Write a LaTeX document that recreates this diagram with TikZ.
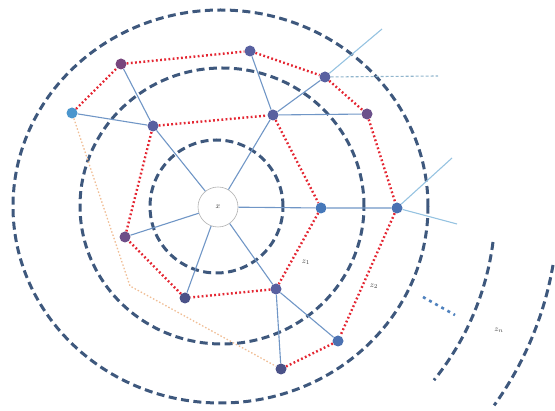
\documentclass[tikz,border=0pt]{standalone}
\usetikzlibrary{calc}
\definecolor{ringc}{RGB}{62,88,125}
\definecolor{edgec}{RGB}{112,150,198}
\definecolor{extc}{RGB}{150,195,225}
\definecolor{redc}{RGB}{228,38,50}
\definecolor{orc}{RGB}{240,190,150}
\definecolor{nodec}{RGB}{88,96,160}
\definecolor{nodeb}{RGB}{70,120,185}
\definecolor{nodel}{RGB}{75,150,205}
\definecolor{nodem}{RGB}{120,70,125}
\definecolor{dotc}{RGB}{80,130,190}
\tikzset{
  ring/.style={draw=ringc,line width=3pt,dash pattern=on 8pt off 4.5pt},
  link/.style={draw=edgec,line width=1.1pt},
  ext/.style={draw=extc,line width=1.1pt},
  extdash/.style={draw=extc!80!gray,line width=1.1pt,dash pattern=on 3pt off 2pt},
  redpath/.style={draw=redc,line width=2.4pt,dash pattern=on 1.8pt off 2.4pt},
  orpath/.style={draw=orc,line width=1.3pt,dash pattern=on 1.5pt off 2pt},
  dot/.style={circle,fill=nodec,inner sep=0pt,minimum size=11pt},
  lab/.style={font=\fontsize{8.5}{9}\selectfont,inner sep=0pt,text=black!75}
}
\begin{document}
\begin{tikzpicture}[x=1pt,y=-1pt]
\useasboundingbox (0,0) rectangle (555,411);
% rings
\draw[ring] (220.5,206.5) ellipse [x radius=207.5pt, y radius=196.5pt];
\draw[ring] (222,206) ellipse [x radius=142pt, y radius=138pt];
\draw[ring] (216.5,206.5) ellipse [x radius=66.5pt, y radius=66.5pt];
\coordinate (a1s) at (493,242);
\coordinate (a2s) at (553,265);
\draw[ring] (a1s) arc[start angle=-7.3, end angle=-39, radius=275pt];
\draw[ring] (a2s) arc[start angle=-9.7, end angle=-35.8, radius=337pt];
% nodes
\node[circle,draw=gray!60,fill=white,line width=0.6pt,minimum size=40pt,inner sep=0pt,font=\fontsize{8.5}{9}\selectfont,text=black!75] (x) at (218,207) {$x$};
\node[dot] (A1) at (153,126) {};
\node[dot] (A2) at (273,115) {};
\node[dot,fill=nodeb] (A3) at (321,208) {};
\node[dot] (A4) at (276,289) {};
\node[dot,fill=nodec!85!black] (A5) at (185,298) {};
\node[dot,fill=nodem!70!nodec] (A6) at (125,237) {};
\node[dot,fill=nodem] (B1) at (121,64) {};
\node[dot] (B2) at (250,51) {};
\node[dot] (B3) at (325,77) {};
\node[dot,fill=nodem!60!nodec] (B4) at (367,114) {};
\node[dot,fill=nodeb!70!nodec] (B5) at (397,208) {};
\node[dot,fill=nodeb!70!nodec] (B6) at (338,341) {};
\node[dot,fill=nodec!85!black] (B7) at (281,369) {};
\node[dot,fill=nodel] (B8) at (72,113) {};
\coordinate (E1) at (382,29);
\coordinate (E2) at (438,76);
\coordinate (E3) at (452,158);
\coordinate (E4) at (457,224);
\coordinate (O1) at (130,286);
\coordinate (D1) at (423,297);
\coordinate (D2) at (455,315);
% blue links
\draw[link] (x) -- (A1) -- (B1);
\draw[link] (B8) -- (A1);
\draw[link] (x) -- (A2) -- (B2);
\draw[link] (A2) -- (B3);
\draw[link] (A2) -- (B4);
\draw[link] (x) -- (A3) -- (B5);
\draw[link] (x) -- (A4);
\draw[link] (x) -- (A5);
\draw[link] (x) -- (A6);
\draw[link] (A4) -- (B7);
\draw[link] (A4) -- (B6);
\draw[ext] (B3) -- (E1);
\draw[extdash] (B3) -- (E2);
\draw[ext] (B5) -- (E3);
\draw[ext] (B5) -- (E4);
% red paths
\draw[redpath] (A1) -- (A2) -- (A3) -- (A4) -- (A5) -- (A6) -- (A1);
\draw[redpath] (B8) -- (B1) -- (B2) -- (B3) -- (B4) -- (B5) -- (B6) -- (B7);
\draw[orpath] (B8) -- (O1) -- (B7);
% dotted continuation
\draw[draw=dotc,line width=2.6pt,dash pattern=on 3pt off 4pt] (D1) -- (D2);
% labels
\node[lab] (z1) at (306,262) {$z_1$};
\node[lab] (z2) at (374,286) {$z_2$};
\node[lab] (zn) at (499,330) {$z_n$};
\end{tikzpicture}
\end{document}
